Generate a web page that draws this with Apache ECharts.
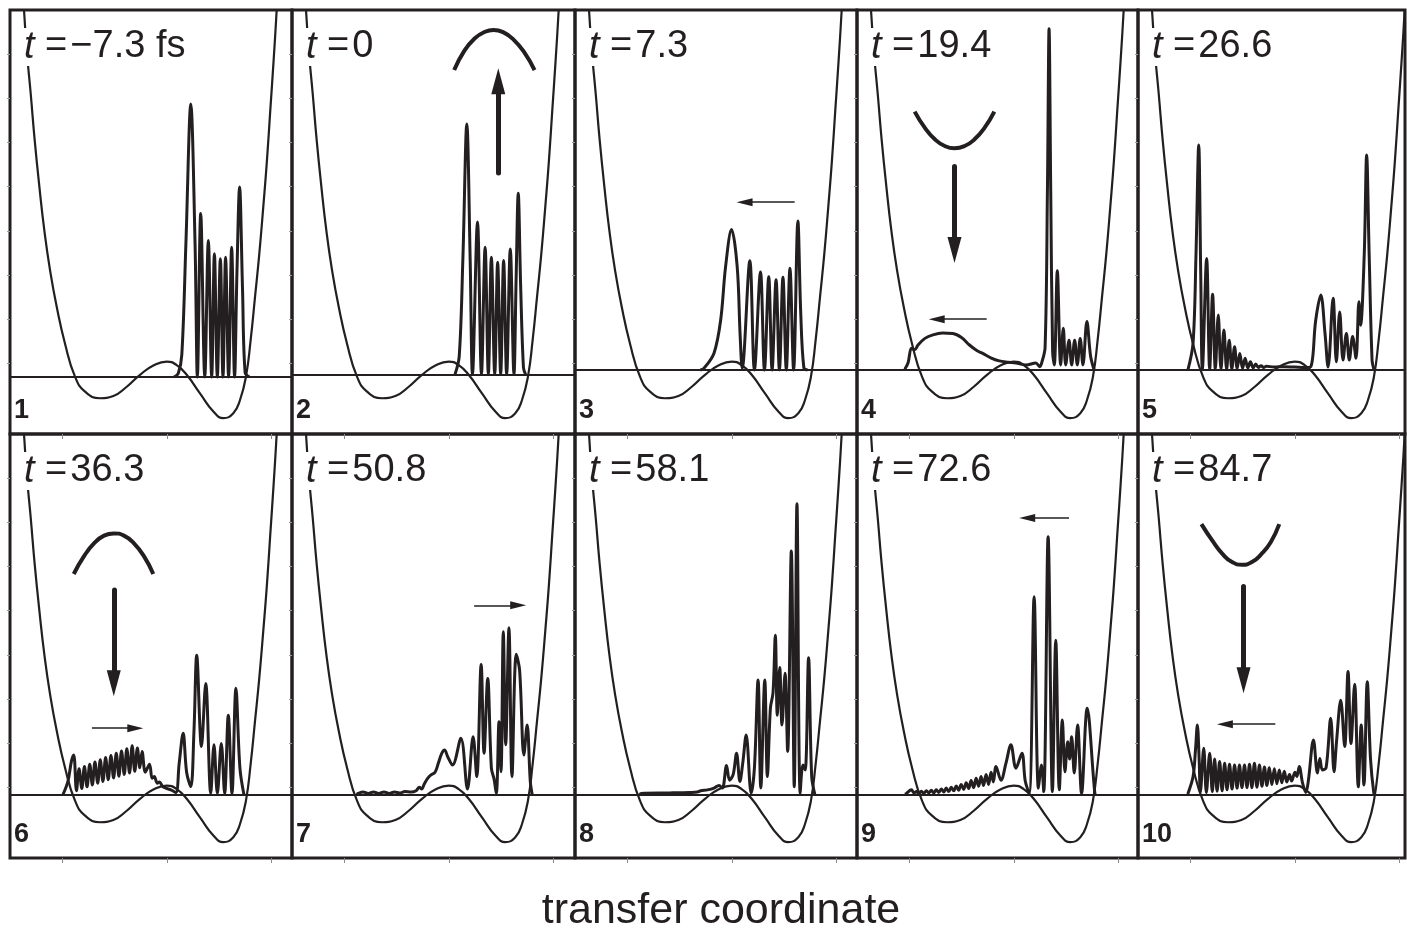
<!DOCTYPE html>
<html>
<head>
<meta charset="utf-8">
<script src="https://cdn.jsdelivr.net/npm/echarts@6/dist/echarts.min.js"></script>
<style>
  html, body { margin: 0; padding: 0; background: #fff; }
  #chart { width: 1407px; height: 933px; }
</style>
</head>
<body>
<div id="chart"></div>
<script>
// double-well potential along the transfer coordinate
const potX = [-1.39, -1.366, -1.340, -1.302, -1.264, -1.219, -1.172, -1.117, -1.053, -0.974, -0.878, -0.782, -0.639, -0.511, -0.383, -0.256, -0.128, 0.0, 0.095, 0.191, 0.318, 0.446, 0.541, 0.637, 0.701, 0.758, 0.803, 0.845, 0.886, 0.924, 0.959, 0.991, 1.023, 1.052, 1.07];
const potV = [9.8, 9.0, 8.09, 7.11, 6.06, 5.00, 4.02, 3.11, 2.28, 1.45, 0.70, 0.36, 0.21, 0.26, 0.47, 0.74, 0.95, 1.04, 0.96, 0.74, 0.32, -0.09, -0.24, -0.13, 0.17, 0.70, 1.53, 2.51, 3.49, 4.55, 5.60, 6.74, 7.87, 9.0, 9.8];

const timeLabels = ['\u22127.3 fs', '0', '7.3', '19.4', '26.6', '36.3', '50.8', '58.1', '72.6', '84.7'];
const panelNames = ['1', '2', '3', '4', '5', '6', '7', '8', '9', '10'];
// mean energy of the packet, the packet is drawn on top of it
const baseEnergy = [0.69, 0.75, 0.85, 0.865, 0.865, 0.843, 0.843, 0.843, 0.843, 0.843];

const xTicks = [-1, 0, 1];
const yTicks = [1, 2, 3, 4, 5, 6, 7, 8];

// wavepacket density above baseEnergy: [x, height]
const packet1 = [[0.07, 0], [0.11, 0.08], [0.144, 0.5], [0.183, 3.0], [0.23, 6.18], [0.271, 3.0], [0.293, 0], [0.325, 3.70], [0.364, 0], [0.398, 3.09], [0.430, 0], [0.456, 2.79], [0.484, 0], [0.513, 2.68], [0.538, 0], [0.563, 2.71], [0.592, 0], [0.621, 2.94], [0.649, 0], [0.672, 2.4], [0.697, 4.30], [0.725, 2.0], [0.750, 0.1], [0.79, 0]];
const packet2 = [[0.06, 0], [0.10, 0.4], [0.135, 2.6], [0.173, 5.67], [0.205, 2.6], [0.227, 0], [0.275, 3.45], [0.313, 0], [0.348, 2.88], [0.379, 0], [0.408, 2.65], [0.440, 0], [0.468, 2.54], [0.497, 0], [0.525, 2.58], [0.554, 0], [0.589, 2.84], [0.624, 0], [0.645, 2.2], [0.665, 4.10], [0.688, 2.0], [0.715, 0.15], [0.735, 0]];
const packet3 = [[-0.30, 0], [-0.265, 0.04], [-0.17, 0.38], [-0.106, 1.13], [-0.059, 2.34], [-0.002, 3.18], [0.052, 2.34], [0.08, 0.8], [0.100, 0.04], [0.173, 2.47], [0.217, 0], [0.275, 2.22], [0.313, 0], [0.354, 2.11], [0.386, 0], [0.424, 2.04], [0.456, 0], [0.490, 2.10], [0.522, 0], [0.557, 2.30], [0.592, 0], [0.633, 3.37], [0.66, 1.3], [0.69, 0.05], [0.725, 0]];
const packet4 = [[-1.043, 0], [-1.011, 0.15], [-0.979, 0.475], [-0.948, 0.44], [-0.916, 0.55], [-0.85, 0.70], [-0.773, 0.78], [-0.68, 0.82], [-0.583, 0.81], [-0.50, 0.72], [-0.424, 0.55], [-0.35, 0.42], [-0.297, 0.36], [-0.22, 0.26], [-0.138, 0.19], [-0.05, 0.16], [0.021, 0.14], [0.116, 0.10], [0.211, 0.14], [0.249, 0.06], [0.268, 0.15], [0.300, 0.5], [0.322, 4.0], [0.338, 7.71], [0.354, 4.0], [0.372, 0.4], [0.388, 0.1], [0.417, 2.23], [0.449, 0.1], [0.474, 0.93], [0.497, 0.1], [0.529, 0.66], [0.554, 0.1], [0.583, 0.66], [0.608, 0.1], [0.636, 0.70], [0.662, 0.1], [0.700, 1.08], [0.735, 0.3], [0.767, 0]];
const packet5 = [[-1.021, 0], [-0.973, 0.6], [-0.945, 2.6], [-0.919, 5.08], [-0.900, 2.2], [-0.884, 0], [-0.843, 2.51], [-0.814, 0], [-0.786, 1.70], [-0.760, 0], [-0.732, 1.23], [-0.706, 0], [-0.678, 0.89], [-0.652, 0], [-0.627, 0.66], [-0.602, 0.01], [-0.576, 0.51], [-0.551, 0.02], [-0.526, 0.36], [-0.500, 0.02], [-0.475, 0.25], [-0.449, 0.03], [-0.424, 0.17], [-0.398, 0.03], [-0.373, 0.12], [-0.348, 0.04], [-0.322, 0.08], [-0.297, 0.04], [-0.271, 0.07], [-0.20, 0.05], [-0.10, 0.06], [0.0, 0.05], [0.10, 0.04], [0.154, 0.06], [0.20, 1.1], [0.249, 1.68], [0.29, 0.8], [0.319, 0.05], [0.367, 1.61], [0.398, 0.17], [0.430, 1.30], [0.462, 0.21], [0.494, 0.81], [0.522, 0.21], [0.554, 0.74], [0.586, 0.25], [0.614, 1.53], [0.630, 1.00], [0.665, 2.6], [0.688, 4.85], [0.712, 2.6], [0.74, 0.2], [0.757, 0]];
const packet6 = [[-0.992, 0], [-0.945, 0.3], [-0.912, 0.75], [-0.890, 0.89], [-0.864, 0.08], [-0.839, 0.58], [-0.813, 0.13], [-0.788, 0.63], [-0.763, 0.17], [-0.737, 0.68], [-0.712, 0.21], [-0.687, 0.73], [-0.661, 0.25], [-0.636, 0.78], [-0.611, 0.29], [-0.585, 0.83], [-0.560, 0.33], [-0.534, 0.88], [-0.509, 0.37], [-0.483, 0.93], [-0.458, 0.41], [-0.433, 0.98], [-0.407, 0.45], [-0.382, 1.03], [-0.356, 0.48], [-0.331, 1.10], [-0.306, 0.52], [-0.281, 1.05], [-0.258, 0.60], [-0.236, 0.97], [-0.205, 0.50], [-0.165, 0.68], [-0.140, 0.36], [-0.120, 0.40], [-0.09, 0.25], [-0.07, 0.28], [-0.04, 0.18], [-0.01, 0.14], [0.04, 0.10], [0.087, 0.04], [0.119, 0.7], [0.157, 1.38], [0.19, 0.5], [0.230, 0.17], [0.26, 1.4], [0.287, 3.15], [0.332, 1.08], [0.373, 2.51], [0.421, 0.02], [0.452, 1.12], [0.484, 0.02], [0.522, 1.15], [0.554, 0.02], [0.589, 1.79], [0.624, 0.02], [0.662, 2.40], [0.70, 0.6], [0.738, 0]];
const packet7 = [[-0.88, 0], [-0.868, 0.02], [-0.82, 0.05], [-0.77, 0.02], [-0.72, 0.05], [-0.67, 0.02], [-0.62, 0.05], [-0.57, 0.02], [-0.52, 0.05], [-0.47, 0.03], [-0.42, 0.06], [-0.36, 0.05], [-0.313, 0.08], [-0.281, 0.16], [-0.259, 0.12], [-0.233, 0.24], [-0.202, 0.36], [-0.170, 0.44], [-0.131, 0.50], [-0.100, 0.70], [-0.068, 0.92], [-0.040, 1.00], [-0.010, 0.85], [0.036, 0.66], [0.116, 1.27], [0.179, 0.12], [0.233, 1.30], [0.268, 0.40], [0.310, 2.94], [0.338, 0.93], [0.373, 2.62], [0.408, 0.59], [0.433, 0.35], [0.455, 0.02], [0.481, 1.64], [0.500, 0.51], [0.522, 3.68], [0.545, 1.12], [0.576, 3.77], [0.605, 0.40], [0.646, 3.17], [0.678, 2.81], [0.719, 0.89], [0.750, 1.57], [0.780, 0.3], [0.798, 0]];
const packet8 = [[-0.88, 0], [-0.868, 0.02], [-0.6, 0.03], [-0.40, 0.04], [-0.329, 0.05], [-0.297, 0.08], [-0.233, 0.10], [-0.170, 0.14], [-0.122, 0.20], [-0.090, 0.14], [-0.050, 0.65], [-0.021, 0.32], [0.014, 0.45], [0.046, 0.93], [0.078, 0.29], [0.105, 0.7], [0.138, 1.34], [0.186, 0.02], [0.217, 0.6], [0.252, 2.59], [0.278, 0.14], [0.316, 2.59], [0.341, 0.40], [0.370, 1.95], [0.395, 2.3], [0.417, 3.60], [0.436, 1.79], [0.459, 2.87], [0.481, 1.57], [0.510, 2.74], [0.535, 0.97], [0.570, 5.51], [0.598, 0.17], [0.624, 6.58], [0.655, 0.02], [0.681, 0.66], [0.703, 0.55], [0.735, 3.09], [0.765, 0.4], [0.795, 0]];
const packet9 = [[-1.04, 0], [-1.027, 0.02], [-0.979, 0.10], [-0.955, 0.03], [-0.932, 0.06], [-0.908, 0.02], [-0.884, 0.07], [-0.860, 0.02], [-0.836, 0.08], [-0.812, 0.03], [-0.789, 0.09], [-0.765, 0.03], [-0.741, 0.10], [-0.717, 0.04], [-0.693, 0.12], [-0.669, 0.05], [-0.646, 0.14], [-0.622, 0.06], [-0.598, 0.16], [-0.574, 0.08], [-0.550, 0.19], [-0.527, 0.09], [-0.503, 0.22], [-0.479, 0.11], [-0.455, 0.26], [-0.431, 0.13], [-0.408, 0.31], [-0.384, 0.15], [-0.360, 0.36], [-0.336, 0.18], [-0.313, 0.40], [-0.289, 0.20], [-0.265, 0.45], [-0.241, 0.22], [-0.217, 0.50], [-0.195, 0.28], [-0.170, 0.63], [-0.122, 0.32], [-0.075, 0.7], [-0.027, 1.12], [0.021, 0.59], [0.078, 0.93], [0.11, 0.3], [0.148, 0.02], [0.195, 4.47], [0.236, 0.14], [0.265, 0.66], [0.287, 0.06], [0.329, 5.83], [0.370, 0.06], [0.402, 3.49], [0.436, 0.10], [0.465, 1.68], [0.490, 0.51], [0.516, 1.19], [0.535, 0.8], [0.554, 1.30], [0.579, 0.48], [0.611, 1.57], [0.649, 0.02], [0.703, 1.95], [0.776, 0.02], [0.79, 0]];
const packet10 = [[-1.03, 0], [-1.021, 0.02], [-0.973, 0.4], [-0.950, 1.0], [-0.932, 1.57], [-0.915, 0.8], [-0.903, 0.05], [-0.871, 1.04], [-0.846, 0.04], [-0.814, 0.93], [-0.789, 0.06], [-0.767, 0.80], [-0.743, 0.07], [-0.719, 0.74], [-0.695, 0.08], [-0.671, 0.70], [-0.648, 0.10], [-0.624, 0.68], [-0.600, 0.12], [-0.576, 0.66], [-0.552, 0.14], [-0.529, 0.66], [-0.505, 0.15], [-0.481, 0.66], [-0.457, 0.15], [-0.433, 0.68], [-0.410, 0.15], [-0.386, 0.70], [-0.362, 0.16], [-0.338, 0.66], [-0.314, 0.18], [-0.290, 0.62], [-0.267, 0.20], [-0.243, 0.60], [-0.219, 0.22], [-0.195, 0.58], [-0.171, 0.24], [-0.148, 0.55], [-0.124, 0.26], [-0.100, 0.52], [-0.076, 0.28], [-0.050, 0.45], [-0.030, 0.30], [0.002, 0.50], [0.020, 0.40], [0.043, 0.63], [0.075, 0.25], [0.106, 0.04], [0.13, 0.3], [0.179, 1.23], [0.217, 0.48], [0.240, 0.81], [0.265, 0.55], [0.30, 0.6], [0.344, 1.72], [0.376, 0.51], [0.40, 1.2], [0.440, 2.13], [0.478, 1.08], [0.510, 2.78], [0.538, 1.15], [0.573, 2.49], [0.608, 0.17], [0.636, 1.57], [0.662, 0.21], [0.694, 2.55], [0.725, 0.8], [0.757, 0.02], [0.77, 0]];
const packets = [packet1, packet2, packet3, packet4, packet5, packet6, packet7, packet8, packet9, packet10];

// pulse sketches (inverted / upright parabolas)
const cap2 = [[0.052, 7.64], [0.15, 8.08], [0.25, 8.36], [0.34, 8.50], [0.427, 8.55], [0.52, 8.50], [0.62, 8.33], [0.72, 8.05], [0.821, 7.64]];
const cap4 = [[-0.948, 6.70], [-0.85, 6.33], [-0.75, 6.06], [-0.66, 5.92], [-0.567, 5.87], [-0.47, 5.92], [-0.38, 6.06], [-0.28, 6.33], [-0.186, 6.70]];
const cap6 = [[-0.890, 5.83], [-0.79, 6.24], [-0.69, 6.54], [-0.60, 6.70], [-0.507, 6.75], [-0.41, 6.70], [-0.32, 6.54], [-0.22, 6.24], [-0.129, 5.83]];
const cap10 = [[-0.893, 6.96], [-0.79, 6.59], [-0.69, 6.28], [-0.60, 6.10], [-0.503, 6.04], [-0.41, 6.10], [-0.32, 6.28], [-0.23, 6.55], [-0.148, 6.96]];
const capPanels = [1, 3, 5, 9];
const caps = [cap2, cap4, cap6, cap10];

// thick vertical arrows: [panel, x, yTail, yTip]
const thickArrows = [[1, 0.474, 5.31, 7.68], [3, -0.567, 5.455, 3.27], [5, -0.507, 5.47, 3.06], [9, -0.490, 5.55, 3.13]];
// thin horizontal arrows: [panel, xTail, xTip, y]
const thinArrows = [[2, 0.602, 0.046, 4.65], [3, -0.259, -0.814, 2.0], [5, -0.716, -0.224, 2.34], [6, 0.243, 0.741, 5.12], [8, 0.529, 0.052, 7.10], [9, -0.186, -0.745, 2.43]];

const INK = '#231f20';
const FONT = "'Liberation Sans', Arial, Helvetica, sans-serif";
const colLeft = [10, 292, 575, 857, 1138];
const colRight = [292, 575, 857, 1138, 1405];
const rowTop = [10, 434];
const ROW_H = 424;
const X_MIN = -1.5, Y_MIN = -0.6, Y_MAX = 9.0;
const PX_PER_X = 104.5;
const PX_PER_Y = ROW_H / (Y_MAX - Y_MIN);
const THICK_HEAD = [14, 26];
const THIN_HEAD = [8, 16];

const grids = [], xAxes = [], yAxes = [], series = [], graphics = [];

for (let i = 0; i < 10; i++) {
  const c = i % 5, r = Math.floor(i / 5);
  const left = colLeft[c], top = rowTop[r], width = colRight[c] - colLeft[c];

  grids.push({left: left, top: top, width: width, height: ROW_H, show: true,
    borderColor: INK, borderWidth: 3, backgroundColor: 'transparent'});
  xAxes.push({type: 'value', gridIndex: i, min: X_MIN, max: X_MIN + width / PX_PER_X,
    axisLine: {show: false, onZero: false}, splitLine: {show: false}, axisLabel: {show: false},
    axisTick: {show: true, customValues: xTicks, length: 5, lineStyle: {color: '#8a8a8a', width: 1}}});
  yAxes.push({type: 'value', gridIndex: i, min: Y_MIN, max: Y_MAX,
    axisLine: {show: false, onZero: false}, splitLine: {show: false}, axisLabel: {show: false},
    axisTick: {show: true, customValues: yTicks, length: 3, lineStyle: {color: '#9a9a9a', width: 1}}});

  // potential + baseline
  series.push({
    type: 'line', xAxisIndex: i, yAxisIndex: i, z: 2,
    data: potX.map((x, k) => [x, potV[k]]),
    smooth: 0.5, showSymbol: false, silent: true,
    lineStyle: {color: INK, width: 2.2},
    markLine: {silent: true, symbol: 'none', label: {show: false},
      lineStyle: {color: INK, width: 2, type: 'solid'},
      data: [{yAxis: baseEnergy[i]}]}
  });

  // wavepacket + thin arrows
  const thin = thinArrows.filter(a => a[0] === i).map(a => {
    const dir = Math.sign(a[2] - a[1]);
    return [{coord: [a[1], a[3]]}, {coord: [a[2] - dir * THIN_HEAD[1] / 2 / PX_PER_X, a[3]]}];
  });
  series.push({
    type: 'line', xAxisIndex: i, yAxisIndex: i, z: 3,
    data: packets[i].map(p => [p[0], baseEnergy[i] + p[1]]),
    smooth: 0.35, showSymbol: false, silent: true,
    lineStyle: {color: INK, width: 3, join: 'round'},
    markLine: {silent: true, symbol: ['none', 'triangle'], symbolSize: THIN_HEAD, label: {show: false},
      lineStyle: {color: INK, width: 1.6, type: 'solid'}, data: thin}
  });

  // pulse sketch + thick arrow
  const ci = capPanels.indexOf(i);
  if (ci >= 0) {
    const thick = thickArrows.filter(a => a[0] === i).map(a => {
      const dir = Math.sign(a[3] - a[2]);
      return [{coord: [a[1], a[2]]}, {coord: [a[1], a[3] - dir * THICK_HEAD[1] / 2 / PX_PER_Y]}];
    });
    series.push({
      type: 'line', xAxisIndex: i, yAxisIndex: i, z: 3,
      data: caps[ci], smooth: 0.5, showSymbol: false, silent: true,
      lineStyle: {color: INK, width: 4},
      markLine: {silent: true, symbol: ['none', 'triangle'], symbolSize: THICK_HEAD, label: {show: false},
        lineStyle: {color: INK, width: 5, type: 'solid', cap: 'round'}, data: thick}
    });
  }

  graphics.push({
    type: 'text', x: left + 12, y: top + 37, z: 50,
    style: {
      text: '{it|t}{rm| =}{v|' + timeLabels[i] + '}',
      rich: {
        it: {fontStyle: 'italic', fontSize: 38, fontFamily: FONT, fill: INK},
        rm: {fontSize: 38, fontFamily: FONT, fill: INK},
        v: {fontSize: 38, fontFamily: FONT, fill: INK, padding: [0, 0, 0, 3]}
      },
      verticalAlign: 'middle', backgroundColor: '#fff', padding: [0, 2]
    }
  });
  graphics.push({
    type: 'text', x: left + 4, y: top + ROW_H - 23, z: 50,
    style: {text: panelNames[i], font: 'bold 27px ' + FONT, fill: INK, verticalAlign: 'middle'}
  });
}

graphics.push({
  type: 'text', x: 721, y: 911, z: 50,
  style: {text: 'transfer coordinate', font: '43px ' + FONT, fill: INK, align: 'center', verticalAlign: 'middle'}
});

const chart = echarts.init(document.getElementById('chart'), null, {renderer: 'canvas'});
chart.setOption({
  animation: false,
  backgroundColor: '#fff',
  grid: grids,
  xAxis: xAxes,
  yAxis: yAxes,
  series: series,
  graphic: graphics
});
</script>
</body>
</html>
